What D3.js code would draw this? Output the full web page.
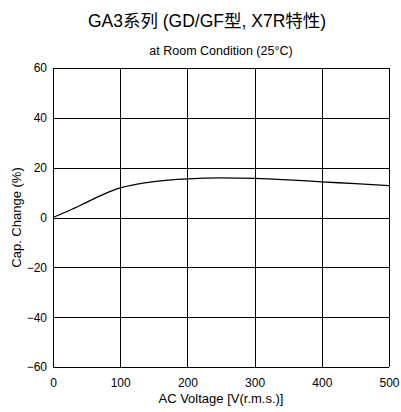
<!DOCTYPE html>
<html>
<head>
<meta charset="utf-8">
<script src="https://cdn.jsdelivr.net/npm/d3@7"></script>
<style>
  body { margin: 0; background: #fff; }
  svg { font-family: "Liberation Sans", Arial, "Noto Sans CJK SC", sans-serif; }
  .grid line { stroke: #000; stroke-width: 1; shape-rendering: crispEdges; }
  .axis path, .axis line { display: none; }
  .axis text { font-size: 12px; fill: #000; }
</style>
</head>
<body>
<div id="chart"></div>
<script>
'use strict';

// Chart values
var titleText = 'GA3系列 (GD/GF型, X7R特性)';
var subtitleText = 'at Room Condition (25°C)';
var xLabel = 'AC Voltage [V(r.m.s.)]';
var yLabel = 'Cap. Change (%)';
var xTicks = [0, 100, 200, 300, 400, 500];
var yTicks = [-60, -40, -20, 0, 20, 40, 60];
var voltage = [0, 25, 50, 75, 100, 125, 150, 200, 250, 300, 350, 400, 450, 500];
var capChange = [0, 2.9, 6.1, 9.3, 11.9, 13.4, 14.4, 15.5, 15.9, 15.7, 15.1, 14.3, 13.6, 12.8];

// Layout parameters
var width = 401;
var height = 412;
var margin = {top: 68, right: 12, bottom: 45, left: 53};
var innerW = width - margin.left - margin.right;
var innerH = height - margin.top - margin.bottom;

var x = d3.scaleLinear().domain([0, 500]).range([0, innerW]);
var y = d3.scaleLinear().domain([-60, 60]).range([innerH, 0]);

var svg = d3.select('#chart').append('svg')
  .attr('width', width)
  .attr('height', height);

svg.append('text')
  .attr('x', 207)
  .attr('y', 27)
  .attr('text-anchor', 'middle')
  .style('font-size', '17.5px')
  .text(titleText);

svg.append('text')
  .attr('x', margin.left + innerW / 2)
  .attr('y', 55)
  .attr('text-anchor', 'middle')
  .style('font-size', '12.5px')
  .text(subtitleText);

var g = svg.append('g')
  .attr('transform', 'translate(' + margin.left + ',' + margin.top + ')');

// Grid
var grid = g.append('g').attr('class', 'grid');
grid.selectAll('.vline')
  .data(xTicks)
  .enter().append('line')
  .attr('x1', function(d) { return Math.round(x(d)) + 0.5; })
  .attr('x2', function(d) { return Math.round(x(d)) + 0.5; })
  .attr('y1', 0)
  .attr('y2', innerH);
grid.selectAll('.hline')
  .data(yTicks)
  .enter().append('line')
  .attr('y1', function(d) { return Math.round(y(d)) + 0.5; })
  .attr('y2', function(d) { return Math.round(y(d)) + 0.5; })
  .attr('x1', 0)
  .attr('x2', innerW);

// Axes
g.append('g')
  .attr('class', 'axis')
  .attr('transform', 'translate(0,' + innerH + ')')
  .call(d3.axisBottom(x).tickValues(xTicks).tickSize(0).tickPadding(11));

g.append('g')
  .attr('class', 'axis')
  .call(d3.axisLeft(y).tickValues(yTicks).tickSize(0).tickPadding(6));

// Curve
var line = d3.line()
  .x(function(d) { return x(d[0]); })
  .y(function(d) { return y(d[1]); })
  .curve(d3.curveMonotoneX);

g.append('path')
  .datum(d3.zip(voltage, capChange))
  .attr('fill', 'none')
  .attr('stroke', '#000')
  .attr('stroke-width', 1.3)
  .attr('d', line);

// Axis labels
svg.append('text')
  .attr('x', margin.left + innerW / 2)
  .attr('y', 403)
  .attr('text-anchor', 'middle')
  .style('font-size', '13px')
  .text(xLabel);

svg.append('text')
  .attr('transform', 'translate(21,' + (margin.top + innerH / 2) + ') rotate(-90)')
  .attr('text-anchor', 'middle')
  .style('font-size', '13px')
  .text(yLabel);
</script>
</body>
</html>
